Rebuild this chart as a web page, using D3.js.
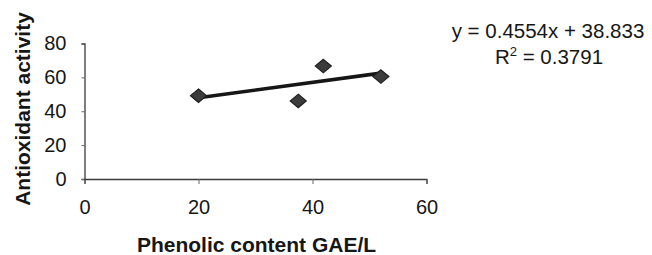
<!DOCTYPE html>
<html><head><meta charset="utf-8">
<script src="https://cdn.jsdelivr.net/npm/d3@7"></script>
<style>body{margin:0;background:#fff}text{font-family:"Liberation Sans",Arial,sans-serif;fill:#161616}</style>
</head><body><svg id="c" width="652" height="255"></svg>
<script>
const phenolic = [20, 37.5, 41.9, 52.0];
const activity = [49.2, 46.1, 66.7, 60.5];
const xTicks = [0, 20, 40, 60];
const yTicks = [0, 20, 40, 60, 80];
const slope = 0.4554, intercept = 38.833;
const eqText = "y = 0.4554x + 38.833";
const r2Value = "0.3791";

const svg = d3.select("#c");
const x = d3.scaleLinear().domain([0, 60]).range([84.5, 426.5]);
const y = d3.scaleLinear().domain([0, 80]).range([179, 43.5]);

const gx = svg.append("g").attr("transform", "translate(0,179)")
  .call(d3.axisBottom(x).tickValues(xTicks).tickSize(5).tickPadding(16));
const gy = svg.append("g").attr("transform", "translate(84.5,0)")
  .call(d3.axisLeft(y).tickValues(yTicks).tickSize(3).tickPadding(15));
[gx, gy].forEach(g => {
  g.select(".domain").attr("stroke", "#3a3a3a").attr("stroke-width", 1.3);
  g.selectAll(".tick line").attr("stroke", "#666").attr("stroke-width", 1);
  g.selectAll(".tick text").attr("font-size", 20).attr("fill", "#161616")
    .style("font-family", '"Liberation Sans",Arial,sans-serif');
});

const xmin = d3.min(phenolic), xmax = d3.max(phenolic);
svg.append("line")
  .attr("x1", x(xmin)).attr("y1", y(slope * xmin + intercept))
  .attr("x2", x(xmax)).attr("y2", y(slope * xmax + intercept))
  .attr("stroke", "#161616").attr("stroke-width", 3.6).attr("stroke-linecap", "round");

const data = phenolic.map((v, i) => ({x: v, y: activity[i]}));
svg.selectAll("path.pt").data(data).enter().append("path")
  .attr("class", "pt")
  .attr("d", d3.symbol().type(d3.symbolDiamond2).size(150))
  .attr("transform", d => `translate(${x(d.x)},${y(d.y)}) scale(1.05,0.88)`)
  .attr("fill", "#3c3c3c").attr("stroke", "#1e1e1e").attr("stroke-width", 1.2);

svg.append("text").attr("x", 256.5).attr("y", 251.5).attr("text-anchor", "middle")
  .attr("font-size", 21).attr("font-weight", "bold").text("Phenolic content GAE/L");
svg.append("text").attr("transform", "translate(30,109) rotate(-90)").attr("text-anchor", "middle")
  .attr("font-size", 21).attr("font-weight", "bold").text("Antioxidant activity");

svg.append("text").attr("x", 548).attr("y", 38.3).attr("text-anchor", "middle")
  .attr("font-size", 20.5).text(eqText);
const r = svg.append("text").attr("x", 549).attr("y", 64).attr("text-anchor", "middle").attr("font-size", 20.5);
r.append("tspan").text("R");
r.append("tspan").attr("dy", -8).attr("font-size", 13).text("2");
r.append("tspan").attr("dy", 8).text(" = " + r2Value);
</script></body></html>
